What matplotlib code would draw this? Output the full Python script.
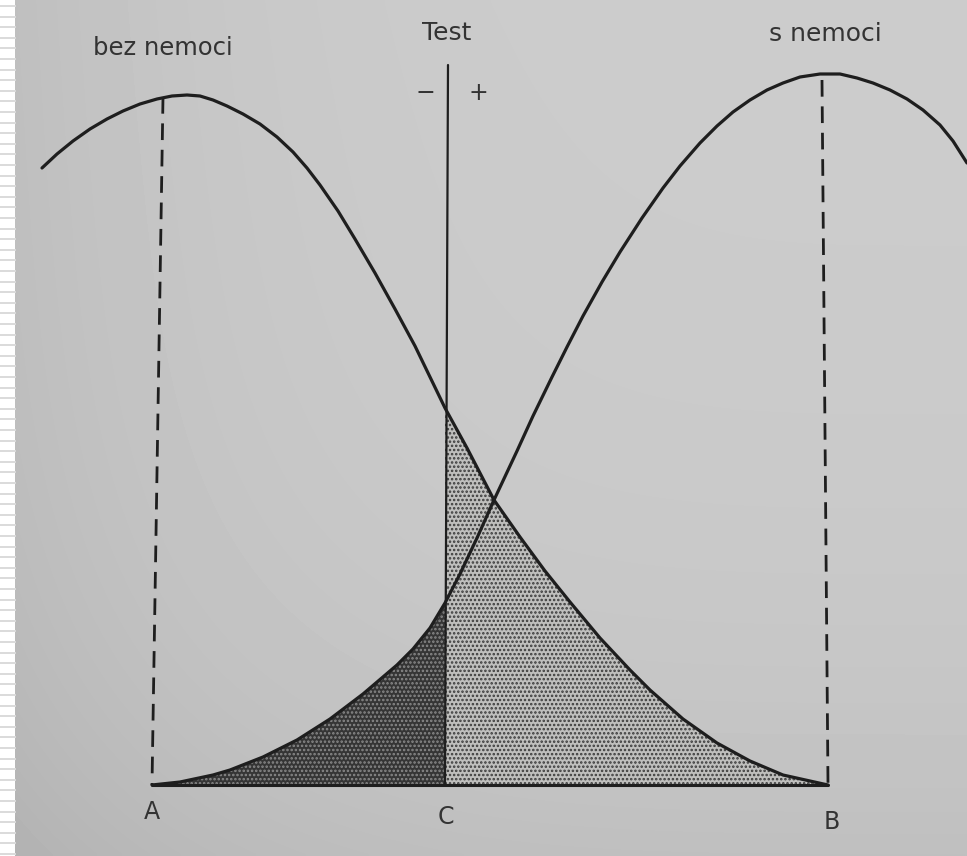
import numpy as np
import matplotlib.pyplot as plt
from matplotlib.lines import Line2D

# krivka "bez nemoci": x a vyska nad zakladnou
zdravi_x = [42, 57, 73, 90, 107, 123, 140, 157, 172, 187, 200, 213, 227, 243,
            260, 277, 293, 307, 320, 338, 355, 375, 395, 415, 445, 467, 494,
            520, 545, 570, 600, 630, 650, 683, 717, 750, 783, 810, 828]
zdravi_y = [617, 631, 644, 656, 666, 674, 681, 686, 689, 690, 689, 685, 679, 671,
            661, 648, 633, 617, 600, 574, 546, 512, 476, 439, 377, 337, 285,
            248, 214, 183, 147, 115, 95, 66, 42, 24, 10, 4, 0]

# krivka "s nemoci"
nemoc_x = [152, 180, 213, 230, 263, 297, 330, 363, 397, 413, 430, 445, 460, 477,
           494, 517, 533, 552, 567, 583, 602, 620, 642, 663, 680, 700, 717, 733,
           750, 767, 783, 800, 820, 840, 857, 873, 890, 907, 923, 940, 953, 967]
nemoc_y = [0, 3, 10, 15, 28, 45, 66, 91, 120, 136, 157, 182, 211, 247,
           285, 334, 369, 408, 438, 469, 503, 533, 567, 597, 619, 642, 659, 673,
           685, 695, 702, 708, 711, 711, 707, 702, 695, 686, 675, 660, 644, 622]

# body na ose: A, C (hranice testu), B
osa_jmena = ["A", "C", "B"]
osa_x = [152, 445, 828]
osa_popis_y = [-27, -32, -37]
popis_x = [152, 446, 832]
# svisla cara testu (horni konec) a prerusovane cary (horni konce)
test_horni = (448, 720)
carky_x = [163, 822]
carky_y = [688, 705]

zx = np.array(zdravi_x)
zy = np.array(zdravi_y)
nx = np.array(nemoc_x)
ny = np.array(nemoc_y)

fig = plt.figure(figsize=(9.67, 8.56), dpi=100, facecolor="white")

# pruh vlevo (okraj slajdu)
for i in range(82):
    yy = 1 - (i * 10.6 + 6) / 856
    fig.add_artist(Line2D([0, 15 / 967], [yy, yy], color="#dadada", lw=1.4))

ax = fig.add_axes([15 / 967, 0, 952 / 967, 1])
ax.set_xlim(15, 967)
ax.set_ylim(-71, 785)
ax.axis("off")

# papir - o neco tmavsi vlevo a dole
gx, gy = np.meshgrid(np.linspace(0, 1, 200), np.linspace(0, 1, 200))
stin = 0.79 - 0.05 * (1 - gx) ** 4 - 0.04 * gy ** 4 + 0.01 * (1 - gy)
ax.imshow(stin, cmap="gray", vmin=0, vmax=1, extent=[15, 967, -71, 785],
          aspect="auto", zorder=0, origin="upper", interpolation="bilinear")

plt.rcParams["hatch.linewidth"] = 1.2

# tmava plocha: nemocni s negativnim testem
m = nx <= osa_x[1]
ax.fill_between(nx[m], 0, ny[m], facecolor="#353535", edgecolor="#8a8a8a",
                hatch="....", lw=0, zorder=1)
# svetla plocha: zdravi s pozitivnim testem
m = zx >= osa_x[1]
ax.fill_between(zx[m], 0, zy[m], facecolor="#bfbfbd", edgecolor="#3a3a3a",
                hatch="....", lw=0, zorder=1)

kw = dict(color="#1e1e1e", solid_joinstyle="round", solid_capstyle="round", zorder=3)
ax.plot(zx, zy, lw=2.3, **kw)
ax.plot(nx, ny, lw=2.3, **kw)

# zakladna
ax.plot([osa_x[0], osa_x[2]], [0, 0], lw=2.2, **kw)

# test
ax.plot([osa_x[1], test_horni[0]], [0, test_horni[1]], lw=1.6, **kw)

# prerusovane cary od vrcholu
for xt, yt, xb in zip(carky_x, carky_y, [osa_x[0], osa_x[2]]):
    ax.plot([xt, xb], [yt, 0], color="#1e1e1e", lw=2, dashes=(6, 3.5), zorder=2)

txt = dict(color="#333333", ha="center", va="center", family="DejaVu Sans")
ax.text(163, 737, "bez nemoci", fontsize=17.5, **txt)
ax.text(447, 752, "Test", fontsize=18, **txt)
ax.text(425, 692, "−", fontsize=17, **txt)
ax.text(478, 692, "+", fontsize=17, **txt)
ax.text(825, 751, "s nemoci", fontsize=18, **txt)
for jm, x, y in zip(osa_jmena, popis_x, osa_popis_y):
    ax.text(x, y, jm, fontsize=17, **txt)

fig.savefig("out.png", dpi=100, facecolor="white")
